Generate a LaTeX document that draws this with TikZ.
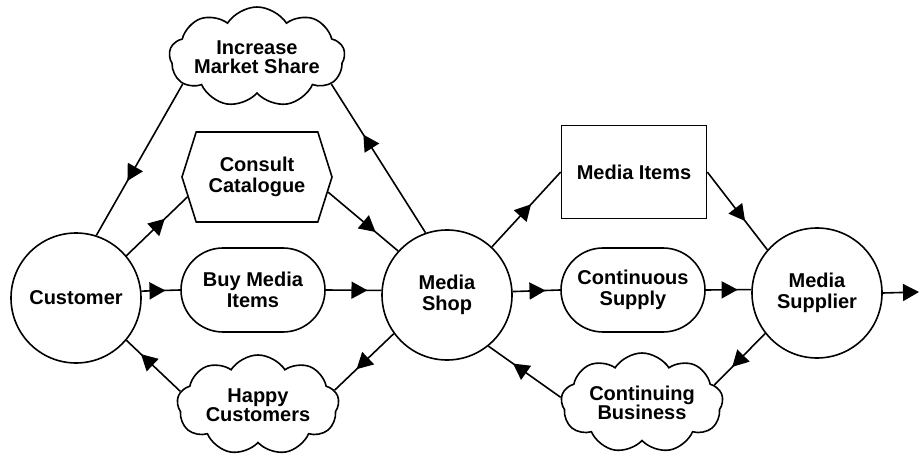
\documentclass[tikz,border=0pt]{standalone}
\usepackage{fontspec}
\setmainfont{Liberation Sans}
\usetikzlibrary{shapes.symbols,shapes.misc,arrows.meta,decorations.markings}
\tikzset{
  base/.style={draw=black, line width=1.6pt, font=\fontsize{20}{21}\selectfont\bfseries, align=center, inner sep=0pt},
  actor/.style={base, circle, minimum size=130pt},
  goal/.style={base, rounded rectangle, minimum width=144pt, minimum height=84pt},
  res/.style={base, rectangle, minimum width=145pt, minimum height=93pt},
  task/.style={base, signal, signal to=west and east, signal pointer angle=145, minimum width=150pt, minimum height=90pt},
  soft/.style={base, cloud, cloud puffs=9, cloud puff arc=115, cloud ignores aspect, minimum width=162pt, minimum height=100pt, font=\fontsize{20}{19}\selectfont\bfseries},
  dep/.style={line width=1.6pt, decoration={markings, mark=at position #1 with {\arrow{Triangle[length=16pt,width=17pt]}}}, postaction={decorate}}
}
\begin{document}
\begin{tikzpicture}[x=1pt,y=-1pt]
\useasboundingbox (0,0) rectangle (920,454);
\node[actor] (cust) at (76,298) {Customer};
\node[actor] (shop) at (447,295) {Media\\Shop};
\node[actor] (sup) at (817,293) {Media\\Supplier};
\node[goal] (buy) at (253,290) {Buy Media\\Items};
\node[goal] (cont) at (633,290) {Continuous\\Supply};
\node[task] (cc) at (257,177) {Consult\\Catalogue};
\node[res] (mi) at (634,172) {Media Items};
\node[soft] (ims) at (257,57) {Increase\\Market Share};
\node[soft] (happy) at (258,405) {Happy\\Customers};
\node[soft] (cb) at (642,403) {Continuing\\Business};
\coordinate (out) at (919,292);

\draw[dep=0.64] (ims.200) -- (cust.72);
\draw[dep=0.66] (shop.109) -- (ims.-20);
\draw[dep=0.63] (cust.40) -- (cc.196);
\draw[dep=0.68] (cc.-12) -- (shop.138);
\draw[dep=0.62] (cust.6) -- (buy.west);
\draw[dep=0.75] (buy.east) -- (shop.176.5);
\draw[dep=0.63] (shop.216) -- (happy.11);
\draw[dep=0.73] (happy.170) -- (cust.-40);
\draw[dep=0.57] (shop.47) -- (mi.west);
\draw[dep=0.63] (mi.east) -- (sup.139);
\draw[dep=0.69] (shop.3.5) -- (cont.west);
\draw[dep=0.70] (cont.east) -- (sup.177);
\draw[dep=0.65] (sup.218) -- (cb.14);
\draw[dep=0.66] (cb.176) -- (shop.-51);
\draw[line width=1.6pt, -{Triangle[length=16pt,width=17pt]}] (sup.0) -- (out);
\end{tikzpicture}
\end{document}
